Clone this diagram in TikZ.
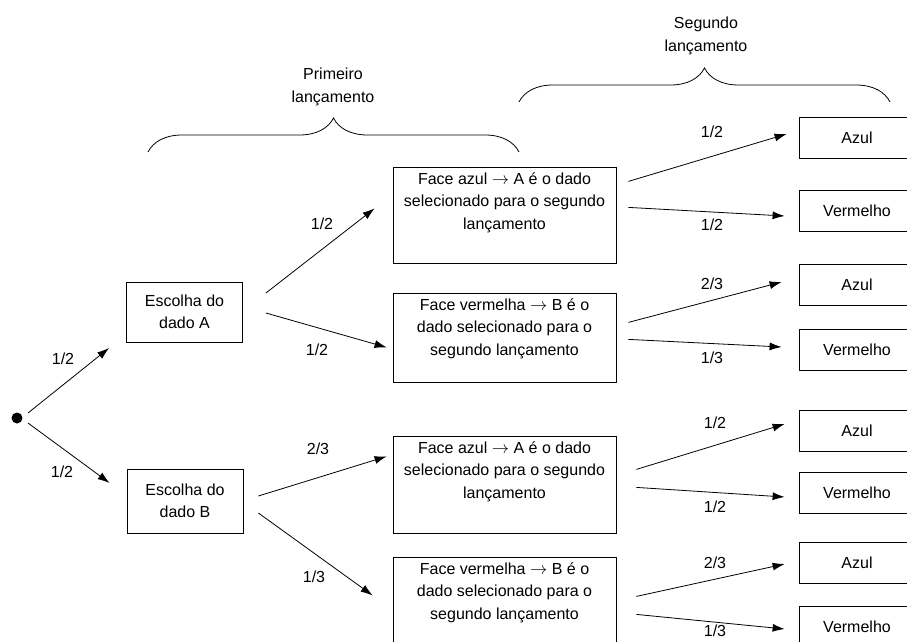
\documentclass[tikz,border=0pt]{standalone}
\usepackage{fontspec}
\setmainfont{Liberation Sans}
\usepackage{tikz}
\usetikzlibrary{arrows.meta,decorations.pathreplacing}
\tikzset{
Caixa/.style={
 draw=black, 
 align=center, 
 minimum width=116pt, 
 minimum height=62pt, 
 inner sep=0pt
 },
CaixaFace/.style={
 draw=black, 
 anchor=north, 
 inner sep=0pt
 },
CaixaCor/.style={
 draw=black, 
 minimum width=116pt, 
 minimum height=41pt, 
 inner sep=0pt
 },
Seta/.style={
 draw=black, 
 -{Latex[length=12pt,width=8pt]}
 },
Chave/.style={
 draw=black, 
 decorate, 
 decoration={brace,amplitude=34pt}
 },
Rotulo/.style={
 inner sep=0pt, 
 align=center
 }
}
\newcommand{\TextoFace}[2]{\parbox[c][#1][t]{223pt}{\centering\vspace*{5pt}#2}}
\newcommand{\Fl}{$\rightarrow$}

\begin{document}
\begin{tikzpicture}[x=1pt,y=-1pt,line width=0.8pt,font=\fontsize{16}{22.5}\selectfont]
\useasboundingbox (0,0) rectangle (907,642);
% chaves
\draw[Chave] (148,152) -- (519,152);
\draw[Chave] (519,102) -- (890,102);
\node[Rotulo] (prim) at (333,87) {Primeiro\\lançamento};
\node[Rotulo] (seg) at (706,36) {Segundo\\lançamento};
% caixas
\node[circle,fill=black,inner sep=0pt,minimum size=11pt] (raiz) at (17,418) {};
\node[Caixa,minimum height=60pt] (dA) at (184.5,312) {Escolha do\\dado A};
\node[Caixa,minimum height=64pt] (dB) at (185,501) {Escolha do\\dado B};
\node[CaixaFace] (fA1) at (504.5,167) {\TextoFace{96pt}{Face azul \Fl{} A é o dado\\selecionado para o segundo\\lançamento}};
\node[CaixaFace] (fB1) at (504.5,293) {\TextoFace{89pt}{Face vermelha \Fl{} B é o\\dado selecionado para o\\segundo lançamento}};
\node[CaixaFace] (fA2) at (504.5,436) {\TextoFace{97pt}{Face azul \Fl{} A é o dado\\selecionado para o segundo\\lançamento}};
\node[CaixaFace] (fB2) at (504.5,557) {\TextoFace{90pt}{Face vermelha \Fl{} B é o\\dado selecionado para o\\segundo lançamento}};
\node[CaixaCor] (az1) at (857,137.5) {Azul};
\node[CaixaCor] (vm1) at (857,211) {Vermelho};
\node[CaixaCor] (az2) at (857,284.5) {Azul};
\node[CaixaCor] (vm2) at (857,349.5) {Vermelho};
\node[CaixaCor] (az3) at (857,430.5) {Azul};
\node[CaixaCor] (vm3) at (857,493) {Vermelho};
\node[CaixaCor] (az4) at (857,563) {Azul};
\node[CaixaCor] (vm4) at (857,626.5) {Vermelho};
% setas
\draw[Seta] ([shift={(11,-5)}]raiz.center) -- ([shift={(-17,36)}]dA.west);
\draw[Seta] ([shift={(11,5)}]raiz.center) -- ([shift={(-17,-18)}]dB.west);
\draw[Seta] ([shift={(23,-19)}]dA.east) -- ([shift={(-18,-7)}]fA1.west);
\draw[Seta] ([shift={(23,1)}]dA.east) -- ([shift={(-6,9.5)}]fB1.west);
\draw[Seta] ([shift={(15,-5)}]dB.east) -- ([shift={(-6,-28.5)}]fA2.west);
\draw[Seta] ([shift={(15,12)}]dB.east) -- ([shift={(-20,-7)}]fB2.west);
\draw[Seta] ([shift={(12,-34)}]fA1.east) -- ([shift={(-12,-3.5)}]az1.west);
\draw[Seta] ([shift={(12,-8)}]fA1.east) -- ([shift={(-14,5)}]vm1.west);
\draw[Seta] ([shift={(12,-15.5)}]fB1.east) -- ([shift={(-17,-2.5)}]az2.west);
\draw[Seta] ([shift={(12,1.5)}]fB1.east) -- ([shift={(-17,-2.5)}]vm2.west);
\draw[Seta] ([shift={(20,-15.5)}]fA2.east) -- ([shift={(-14,-6.5)}]az3.west);
\draw[Seta] ([shift={(20,2.5)}]fA2.east) -- ([shift={(-14,4)}]vm3.west);
\draw[Seta] ([shift={(20,-6)}]fB2.east) -- ([shift={(-14,1)}]az4.west);
\draw[Seta] ([shift={(20,12)}]fB2.east) -- ([shift={(-14,2.5)}]vm4.west);
% probabilidades
\node[Rotulo] (p1) at (63,359) {1/2};
\node[Rotulo] (p2) at (62,472) {1/2};
\node[Rotulo] (p3) at (322,224) {1/2};
\node[Rotulo] (p4) at (317,350) {1/2};
\node[Rotulo] (p5) at (318,449) {2/3};
\node[Rotulo] (p6) at (314,577) {1/3};
\node[Rotulo] (p7) at (712,132) {1/2};
\node[Rotulo] (p8) at (712,225) {1/2};
\node[Rotulo] (p9) at (712,284) {2/3};
\node[Rotulo] (p10) at (712,358) {1/3};
\node[Rotulo] (p11) at (715,423) {1/2};
\node[Rotulo] (p12) at (715,507) {1/2};
\node[Rotulo] (p13) at (715,563) {2/3};
\node[Rotulo] (p14) at (715,631) {1/3};
\end{tikzpicture}
\end{document}
